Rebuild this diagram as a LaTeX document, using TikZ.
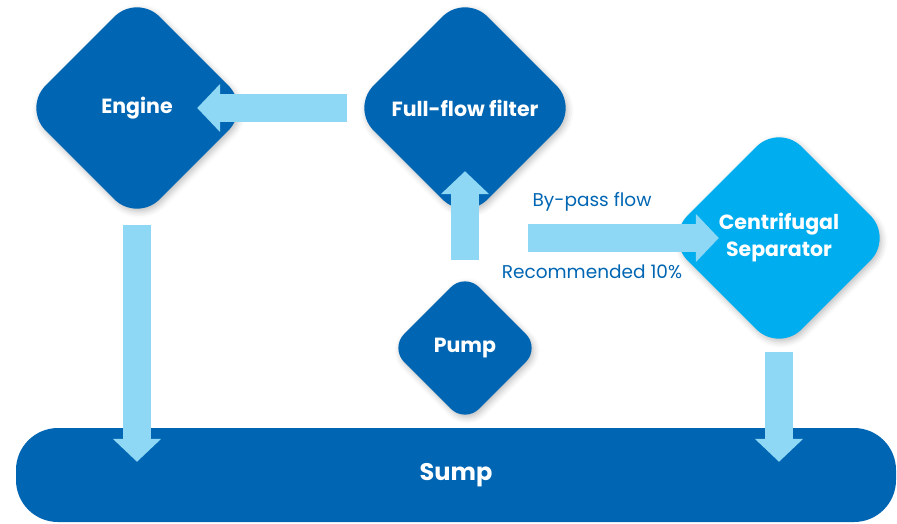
\documentclass[tikz,border=0pt]{standalone}
\usepackage{fontspec}
\setmainfont{Poppins}
\usetikzlibrary{arrows.meta,shapes.geometric,positioning,shadows.blur}
\definecolor{darkblue}{HTML}{0066B3}
\definecolor{skyblue}{HTML}{00AEEF}
\definecolor{flowblue}{HTML}{8FD8F5}

\begin{document}
\begin{tikzpicture}[x=1pt, y=-1pt,
    unit/.style={diamond, fill=darkblue, text=white, inner sep=0pt, minimum size=228pt,
      rounded corners=32pt, align=center, font=\bfseries\fontsize{20.5}{27}\selectfont,
      blur shadow={shadow xshift=2pt, shadow yshift=-3pt, shadow blur radius=6pt, shadow opacity=25}},
    flow/.style={draw=flowblue, line width=28pt, -{Triangle[width=47pt, length=23pt]}},
    note/.style={text=darkblue, font=\fontsize{18.5}{22}\selectfont}]
      \useasboundingbox (0,0) rectangle (897,523);

      % sump
      \node[rectangle, fill=darkblue, text=white, rounded corners=42pt, minimum width=880pt,
        minimum height=94pt, font=\bfseries\fontsize{24}{28}\selectfont] (sump) at (456,475) {Sump};

      % units
      \node[unit] (engine) at (137,108) {Engine};
      \node[unit] (filter) at (465,108) {Full-flow filter};
      \node[unit, fill=skyblue] (centri) at (779,238) {Centrifugal\\Separator};
      \node[unit, minimum size=150pt, rounded corners=20pt] (pump) at (465,348) {Pump};

      % flows
      \coordinate (split) at (528,238);
      \draw[flow] ([xshift=-4pt]filter.west) -- ([xshift=-54pt]engine.east);
      \draw[flow] ([yshift=13pt]pump.north) -- ([yshift=51pt]filter.south);
      \draw[flow] (split) -- ([xshift=54pt]centri.west);
      \draw[flow] ([yshift=-3pt]engine.south) -- ([yshift=-34pt]engine.south |- sump.north);
      \draw[flow] (centri.south) -- ([yshift=-34pt]centri.south |- sump.north);

      \node[note] (bypass) at (592,202) {By-pass flow};
      \node[note] (share) at (592,272) {Recommended 10\%};
\end{tikzpicture}
\end{document}
